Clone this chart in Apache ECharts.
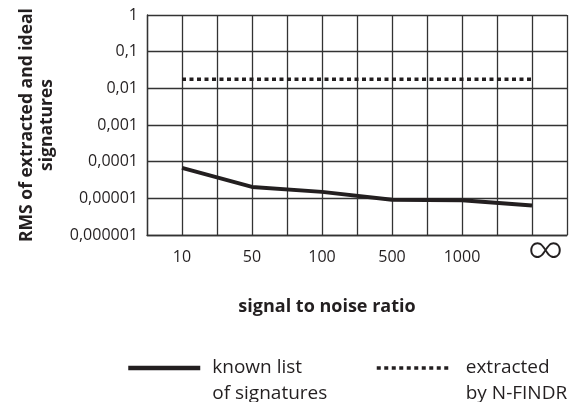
<!DOCTYPE html>
<html>
<head>
<meta charset="utf-8">
<script src="https://cdn.jsdelivr.net/npm/echarts@6/dist/echarts.min.js"></script>
<style>
html,body{margin:0;padding:0;background:#fff;}
#chart{width:581px;height:402px;}
</style>
</head>
<body>
<div id="chart"></div>
<script>
var categories = ['10', '50', '100', '500', '1000', '∞'];
var knownList = [6.8e-5, 2.05e-5, 1.5e-5, 9.2e-6, 8.8e-6, 6.4e-6];
var nfindr = [0.0177, 0.0177, 0.0177, 0.0177, 0.0177, 0.0177];
var yTickLabels = ['0,000001', '0,00001', '0,0001', '0,001', '0,01', '0,1', '1'];
var seriesNames = ['known list\nof signatures', 'extracted\nby N-FINDR'];

function toPairs(vals) {
  return vals.map(function (v, i) { return [2 * i + 1, v]; });
}

var chart = echarts.init(document.getElementById('chart'), null, {renderer: 'canvas'});
var textColor = '#231f20';
var gridColor = '#333333';
var font = 'Open Sans';

function legendCfg(name, left, padLeft, lineStyle) {
  return {
    data: [name], left: left, top: 329, padding: 0, itemWidth: 72, itemHeight: 14,
    formatter: function (n) { return ' \n' + n; },
    itemStyle: {opacity: 0},
    lineStyle: lineStyle,
    textStyle: {fontFamily: font, fontSize: 19, lineHeight: 26, color: textColor, padding: [0, 0, 0, padLeft]}
  };
}

chart.setOption({
  animation: false,
  backgroundColor: '#ffffff',
  grid: {left: 147, right: 14, top: 15, bottom: 167, containLabel: false},
  xAxis: {
    type: 'value', min: 0, max: 12, interval: 1,
    name: 'signal to noise ratio', nameLocation: 'middle', nameGap: 63,
    nameTextStyle: {fontFamily: font, fontWeight: 'bold', fontSize: 18, color: textColor, padding: [0, 60, 0, 0]},
    axisLine: {show: true, lineStyle: {color: gridColor, width: 1.3}},
    axisTick: {show: false},
    splitLine: {show: true, lineStyle: {color: gridColor, width: 1.3}},
    axisLabel: {
      margin: 22, verticalAlign: 'middle', showMinLabel: true, showMaxLabel: true,
      fontFamily: font, fontSize: 16, color: textColor,
      formatter: function (v) {
        if (v % 2 === 1) {
          var lab = categories[(v - 1) / 2];
          if (lab === '∞') return '{inf|∞}';
          return lab;
        }
        return '';
      },
      rich: {inf: {fontFamily: 'Lato', fontWeight: 300, fontSize: 50, color: textColor, padding: [0, 0, 17, 27]}}
    }
  },
  yAxis: {
    type: 'log', logBase: 10, min: 1e-6, max: 1,
    name: 'RMS of extracted and ideal\nsignatures', nameLocation: 'middle', nameGap: 90, nameRotate: 90,
    nameTextStyle: {fontFamily: font, fontWeight: 'bold', fontSize: 17.5, lineHeight: 20, color: textColor, align: 'center'},
    axisLine: {show: true, lineStyle: {color: gridColor, width: 1.3}},
    axisTick: {show: false},
    splitLine: {show: true, lineStyle: {color: gridColor, width: 1.3}},
    axisLabel: {
      margin: 9, fontFamily: font, fontSize: 16, color: textColor,
      formatter: function (v) {
        var idx = Math.round(Math.log10(v)) + 6;
        return yTickLabels[idx] || '';
      }
    }
  },
  legend: [
    legendCfg(seriesNames[0], 126, 7, {width: 4.5, color: '#231f20'}),
    legendCfg(seriesNames[1], 375, 12, {width: 3.5, color: '#231f20', type: [4, 3.5]})
  ],
  series: [{
    name: seriesNames[0], type: 'line', data: toPairs(knownList), symbol: 'none',
    lineStyle: {color: '#231f20', width: 4}, itemStyle: {color: '#231f20'}
  }, {
    name: seriesNames[1], type: 'line', data: toPairs(nfindr), symbol: 'none',
    lineStyle: {color: '#231f20', width: 3.5, type: [4, 3.5]}, itemStyle: {color: '#231f20'}
  }]
});
</script>
</body>
</html>
